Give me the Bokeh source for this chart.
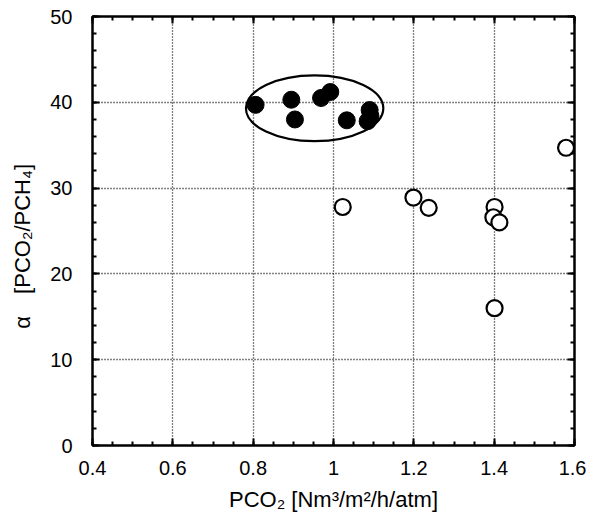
from bokeh.plotting import figure
from bokeh.models import FixedTicker, LinearAxis, Range1d
from bokeh.embed import file_html
from bokeh.resources import INLINE

# Data
filled_x = [0.806, 0.895, 0.904, 0.969, 0.992, 1.033, 1.090, 1.092, 1.085]
filled_y = [39.7, 40.3, 38.0, 40.5, 41.2, 37.9, 39.1, 38.4, 37.8]

open_x = [1.023, 1.199, 1.237, 1.401, 1.398, 1.413, 1.401, 1.579]
open_y = [27.8, 28.9, 27.7, 27.8, 26.6, 26.0, 16.0, 34.7]

ellipse_cx = [0.953]
ellipse_cy = [39.3]
ellipse_w = [0.342]
ellipse_h = [7.67]

x_ticks = [0.4, 0.6, 0.8, 1.0, 1.2, 1.4, 1.6]
x_tick_labels = ["0.4", "0.6", "0.8", "1", "1.2", "1.4", "1.6"]
x_minor = [round(0.4 + 0.05 * i, 2) for i in range(25)]
y_ticks = [0, 10, 20, 30, 40, 50]
y_tick_labels = ["0", "10", "20", "30", "40", "50"]
y_minor = list(range(0, 51, 2))

FONT = "Liberation Sans"

p = figure(width=586, height=515, output_backend="svg", toolbar_location=None,
           x_range=Range1d(0.4, 1.6), y_range=Range1d(0, 50),
           min_border_left=92, min_border_top=16, min_border_right=12, min_border_bottom=70)

p.outline_line_color = "black"
p.outline_line_width = 2
p.background_fill_color = "white"
p.border_fill_color = "white"

# grid
p.xgrid.ticker = FixedTicker(ticks=x_ticks)
p.ygrid.ticker = FixedTicker(ticks=y_ticks)
for g in (p.xgrid, p.ygrid):
    g.grid_line_color = "black"
    g.grid_line_dash = "1 2"
    g.grid_line_width = 1.3

def style_axis(ax, ticks, minor, labels, show_labels=True):
    ax.ticker = FixedTicker(ticks=ticks, minor_ticks=minor)
    ax.axis_line_width = 2
    ax.axis_line_color = "black"
    ax.major_tick_in = 7
    ax.major_tick_out = 0
    ax.minor_tick_in = 4
    ax.minor_tick_out = 0
    ax.major_tick_line_width = 2
    ax.minor_tick_line_width = 2
    ax.major_tick_line_color = "black"
    ax.minor_tick_line_color = "black"
    ax.major_label_text_font = FONT
    ax.major_label_text_font_size = "20px"
    ax.major_label_text_color = "black"
    ax.axis_label_text_font = FONT
    ax.axis_label_text_font_size = "22px"
    ax.axis_label_text_font_style = "normal"
    ax.axis_label_text_color = "black"
    if show_labels:
        ax.major_label_overrides = dict(zip(ticks, labels))
    else:
        ax.major_label_text_font_size = "0px"
        ax.major_label_text_alpha = 0

xa = p.xaxis[0]
ya = p.yaxis[0]
style_axis(xa, x_ticks, x_minor, x_tick_labels)
style_axis(ya, y_ticks, y_minor, y_tick_labels)
xa.axis_label = "PCO\u2082 [Nm\u00b3/m\u00b2/h/atm]"
xa.major_label_standoff = 15
xa.axis_label_standoff = 9
ya.axis_label = "\u03b1\u2003[PCO\u2082/PCH\u2084]" + "\u00a0" * 5
ya.major_label_standoff = 20
ya.axis_label_standoff = 12

top = LinearAxis()
right = LinearAxis()
style_axis(top, x_ticks, x_minor, x_tick_labels, show_labels=False)
style_axis(right, y_ticks, y_minor, y_tick_labels, show_labels=False)
p.add_layout(top, "above")
p.add_layout(right, "right")

p.ellipse(x=ellipse_cx, y=ellipse_cy, width=ellipse_w, height=ellipse_h,
          fill_alpha=0, line_color="black", line_width=2.2)

p.scatter(filled_x, filled_y, size=17, marker="circle", fill_color="black", line_color="black")
p.scatter(open_x, open_y, size=16, marker="circle", fill_color="white", line_color="black", line_width=2.2)

open("out.html", "w").write(file_html(p, INLINE))
